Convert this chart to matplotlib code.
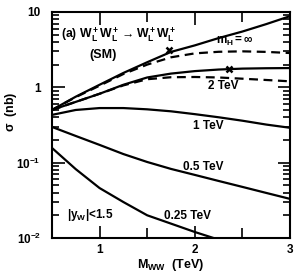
import numpy as np
import matplotlib
matplotlib.use("Agg")
import matplotlib.pyplot as plt
from matplotlib.ticker import FixedLocator, LogLocator, NullFormatter

# Cross sections sigma (nb) vs M_WW (TeV), |y_W| < 1.5
m_ww = [0.5, 0.75, 1.0, 1.25, 1.5, 1.75, 2.0, 2.25, 2.5, 2.75, 3.0]

inf_solid = [0.50, 0.75, 1.08, 1.55, 2.15, 2.95, 3.6, 4.5, 5.5, 6.9, 8.8]
inf_dashed = [0.50, 0.74, 1.05, 1.50, 2.00, 2.50, 2.82, 2.96, 3.0, 2.95, 2.85]
tev2_solid = [0.50, 0.64, 0.82, 1.08, 1.35, 1.52, 1.64, 1.72, 1.77, 1.79, 1.80]
tev2_dashed = [0.50, 0.64, 0.82, 1.06, 1.28, 1.36, 1.37, 1.35, 1.30, 1.25, 1.20]
tev1 = [0.43, 0.50, 0.53, 0.53, 0.51, 0.48, 0.44, 0.40, 0.36, 0.32, 0.29]
tev05 = [0.298, 0.226, 0.172, 0.130, 0.102, 0.0825, 0.0687, 0.0571, 0.0476, 0.0396, 0.033]

m_ww_low = [0.5, 0.75, 1.0, 1.25, 1.5, 1.75, 2.0, 2.25]
tev025 = [0.157, 0.082, 0.046, 0.030, 0.020, 0.0155, 0.012, 0.0095]

# unitarity markers
mark_x = [1.73, 2.36]
mark_y = [3.1, 1.76]

plt.rcParams['font.family'] = ['Liberation Sans', 'DejaVu Sans']
plt.rcParams['mathtext.fontset'] = 'custom'
plt.rcParams['mathtext.rm'] = 'Liberation Sans:bold'
plt.rcParams['mathtext.it'] = 'Liberation Sans:bold'
plt.rcParams['mathtext.bf'] = 'Liberation Sans:bold'

fig = plt.figure(figsize=(3.0, 2.78), dpi=100)
ax = fig.add_axes([0.173, 0.144, 0.794, 0.813])

lw = 1.6
ax.plot(m_ww, inf_solid, color='black', lw=lw)
ax.plot(m_ww, inf_dashed, color='black', lw=lw, ls=(0, (4, 2.5)))
ax.plot(m_ww, tev2_solid, color='black', lw=lw)
ax.plot(m_ww, tev2_dashed, color='black', lw=lw, ls=(0, (4, 2.5)))
ax.plot(m_ww, tev1, color='black', lw=lw)
ax.plot(m_ww, tev05, color='black', lw=lw)
ax.plot(m_ww_low, tev025, color='black', lw=lw)
ax.plot(mark_x, mark_y, ls='none', marker='x', ms=5, mew=1.8, color='black')

ax.set_yscale('log')
ax.set_xlim(0.5, 3.0)
ax.set_ylim(0.01, 10)

ax.xaxis.set_major_locator(FixedLocator([1, 2, 3]))
ax.xaxis.set_minor_locator(FixedLocator([1.5, 2.5]))
ax.yaxis.set_major_locator(FixedLocator([0.01, 0.1, 1, 10]))
ax.yaxis.set_minor_locator(LogLocator(base=10, subs=np.arange(2, 10)))
ax.yaxis.set_minor_formatter(NullFormatter())
ax.set_yticklabels(['$10^{-2}$', '$10^{-1}$', '1', '10'])
ax.set_xticklabels(['1', '2', '3'])
for lab in ax.get_xticklabels() + ax.get_yticklabels():
    lab.set_fontweight('bold')

ax.tick_params(which='both', direction='in', top=True, right=True, width=1.2, labelsize=8.5)
ax.tick_params(which='major', length=9)
ax.tick_params(which='minor', length=5)
ax.tick_params(axis='x', which='minor', length=7)
ax.tick_params(axis='y', pad=8)
ax.tick_params(axis='x', pad=4)
for s in ax.spines.values():
    s.set_linewidth(1.5)

ax.set_ylabel(r'$\sigma$  (nb)', fontsize=9, fontweight='bold')
ax.yaxis.set_label_coords(-0.14, 0.56)
ax.set_xlabel(r'$\mathbf{M_{WW}}$  (TeV)', fontsize=9, fontweight='bold', labelpad=1)

tk = dict(fontsize=8.5, fontweight='bold', ha='center', va='center')
ax.text(0.04, 0.90, r'(a) $\mathbf{W_L^+W_L^+ \rightarrow W_L^+W_L^+}$', transform=ax.transAxes,
        fontsize=8.8, fontweight='bold', ha='left', va='center')
ax.text(0.214, 0.81, '(SM)', transform=ax.transAxes, fontsize=9, fontweight='bold', ha='center', va='center')
ax.text(0.77, 0.87, r'$\mathbf{m_H = \infty}$', transform=ax.transAxes, **tk)
ax.text(0.72, 0.672, '2 TeV', transform=ax.transAxes, **tk)
ax.text(0.655, 0.495, '1 TeV', transform=ax.transAxes, **tk)
ax.text(0.635, 0.315, '0.5 TeV', transform=ax.transAxes, **tk)
ax.text(0.57, 0.095, '0.25 TeV', transform=ax.transAxes, **tk)
ax.text(0.16, 0.10, r'$\mathbf{|y_W|}$<1.5', transform=ax.transAxes, **tk)

fig.savefig('out.png', dpi=100)
